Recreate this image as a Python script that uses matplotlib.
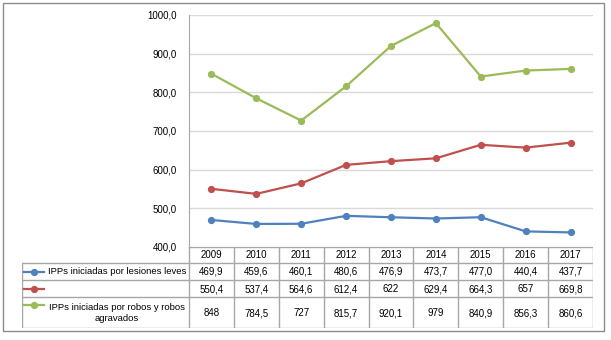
import matplotlib
matplotlib.use("Agg")
import matplotlib.pyplot as plt
from matplotlib.patches import Rectangle

years = ["2009", "2010", "2011", "2012", "2013", "2014", "2015", "2016", "2017"]
lesiones = [469.9, 459.6, 460.1, 480.6, 476.9, 473.7, 477.0, 440.4, 437.7]
segunda = [550.4, 537.4, 564.6, 612.4, 622, 629.4, 664.3, 657, 669.8]
robos = [848, 784.5, 727, 815.7, 920.1, 979, 840.9, 856.3, 860.6]

lesiones_txt = ["469,9", "459,6", "460,1", "480,6", "476,9", "473,7", "477,0", "440,4", "437,7"]
segunda_txt = ["550,4", "537,4", "564,6", "612,4", "622", "629,4", "664,3", "657", "669,8"]
robos_txt = ["848", "784,5", "727", "815,7", "920,1", "979", "840,9", "856,3", "860,6"]

labels = ["IPPs iniciadas por lesiones leves", "",
          "IPPs iniciadas por robos y robos\nagravados"]
colors = ["#4F81BD", "#C0504D", "#9BBB59"]
yticks = [400, 500, 600, 700, 800, 900, 1000]

plt.rcParams['font.family'] = ['Liberation Sans', 'DejaVu Sans']
W, H = 611, 340
fig = plt.figure(figsize=(W / 100, H / 100), dpi=100)

grid_c = "#D9D9D9"
tab_c = "#A6A6A6"

# chart area
x0, x1, ytop, ybot = 189, 593, 15, 247
ax = fig.add_axes([x0 / W, 1 - ybot / H, (x1 - x0) / W, (ybot - ytop) / H])
xs = list(range(len(years)))
for vals, c in zip([lesiones, segunda, robos], colors):
    ax.plot(xs, vals, color=c, lw=1.6, marker="o", ms=4.2, zorder=3)
ax.set_xlim(-0.5, len(years) - 0.5)
ax.set_ylim(400, 1000)
ax.set_yticks(yticks)
ax.set_yticklabels([f"{v:.1f}".replace(".", ",") for v in yticks], fontsize=7)
ax.tick_params(axis="y", length=0, pad=9)
ax.set_xticks([])
ax.grid(axis="y", color=grid_c, lw=1)
for s in ["top", "right", "bottom"]:
    ax.spines[s].set_visible(False)
ax.spines["left"].set_color(tab_c)

# data table below the chart
tx0, tybot = 22, 328
unit = (x1 - x0) / len(years)
left = -0.5 - (x0 - tx0) / unit
tab = fig.add_axes([tx0 / W, 1 - tybot / H, (x1 - tx0) / W, (tybot - ybot) / H])
tab.set_xlim(left, len(years) - 0.5)
tab.set_ylim(tybot, ybot)
tab.axis("off")
rows = [247, 263, 280, 297, 328]
n = len(years)
# horizontal lines
tab.plot([-0.5, n - 0.5], [rows[0]] * 2, color=tab_c, lw=1)
for r in rows[1:]:
    tab.plot([left, n - 0.5], [r] * 2, color=tab_c, lw=1)
# vertical lines
for i in range(n + 1):
    tab.plot([i - 0.5] * 2, [rows[0], rows[-1]], color=tab_c, lw=1)
tab.plot([left] * 2, [rows[1], rows[-1]], color=tab_c, lw=1)

for i, y in enumerate(years):
    tab.text(i, (rows[0] + rows[1]) / 2 + 0.5, y, ha="center", va="center", fontsize=7)
for k, (txts, c, lab) in enumerate(zip([lesiones_txt, segunda_txt, robos_txt], colors, labels)):
    yc = (rows[k + 1] + rows[k + 2]) / 2 + 0.5
    for i, t in enumerate(txts):
        tab.text(i, yc, t, ha="center", va="center", fontsize=7)
    kx = left + 2 / unit
    kw = 20 / unit
    ky = yc if k < 2 else rows[3] + 8
    tab.plot([kx, kx + kw], [ky, ky], color=c, lw=1.6)
    tab.plot([kx + kw / 2], [ky], color=c, marker="o", ms=4.2)
    tab.text(left + 95 / unit, yc, lab, ha="center", va="center", fontsize=6.8,
             linespacing=1.25)

# outer frame
fig.patches.append(Rectangle((3 / W, 1 - 331 / H), 601 / W, 328 / H, transform=fig.transFigure,
                             fill=False, edgecolor="#8C8C8C", lw=1))

fig.savefig("out.png", dpi=100)
